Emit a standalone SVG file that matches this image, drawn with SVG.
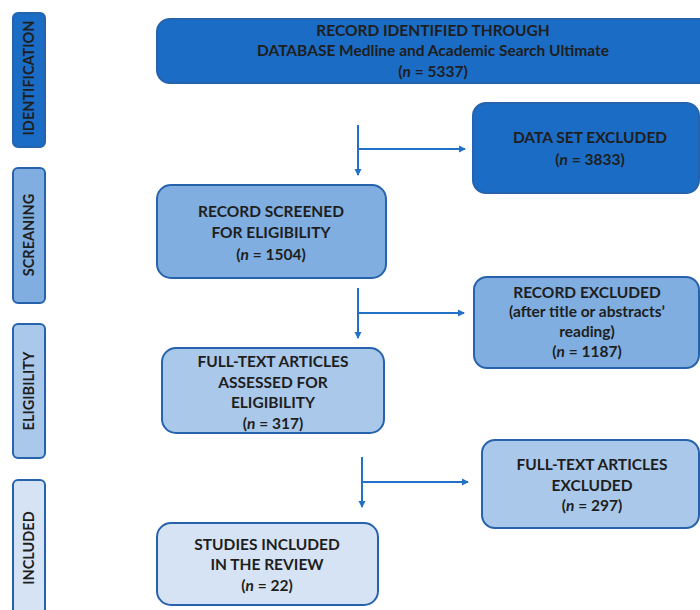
<svg xmlns="http://www.w3.org/2000/svg" width="700" height="610" viewBox="0 0 700 610">
<defs>
<style>
.box{stroke:#2663ac;stroke-width:2}
.d{fill:#1b6cc4}
.m{fill:#80aee0}
.l{fill:#aac8ea}
.x{fill:#d6e3f4}
text{font-family:Lato,"Liberation Sans",sans-serif;font-weight:bold;font-size:15.5px;fill:#1e1e1e;text-anchor:middle}
text.side{font-size:14.5px}
.conn{stroke:#2370c8;stroke-width:2;fill:none}
</style>
<marker id="ah" markerWidth="8" markerHeight="8" refX="6" refY="4" orient="auto" markerUnits="userSpaceOnUse">
<path d="M0,0.5 L7,4 L0,7.5 Z" fill="#2370c8"/>
</marker>
</defs>
<rect width="700" height="610" fill="#ffffff"/>

<g id="stage-identification">
<rect class="box d" x="13" y="13" width="32" height="134" rx="5"/>
<text class="side" transform="translate(34 78) rotate(-90)">IDENTIFICATION</text>
</g>
<g id="stage-screening">
<rect class="box m" x="13" y="168" width="32" height="135" rx="5"/>
<text class="side" transform="translate(34 235) rotate(-90)">SCREANING</text>
</g>
<g id="stage-eligibility">
<rect class="box l" x="13" y="324" width="32" height="134" rx="5"/>
<text class="side" transform="translate(34 391) rotate(-90)">ELIGIBILITY</text>
</g>
<g id="stage-included">
<rect class="box x" x="13" y="480" width="32" height="145" rx="5"/>
<text class="side" transform="translate(34 548) rotate(-90)">INCLUDED</text>
</g>

<g id="identified">
<rect class="box d" x="157" y="19" width="560" height="64" rx="13"/>
<text x="433" y="36">RECORD IDENTIFIED THROUGH</text>
<text x="433" y="56">DATABASE Medline and Academic Search Ultimate</text>
<text x="433" y="77">(<tspan font-style="italic">n</tspan> = 5337)</text>
</g>
<g id="dataset-excluded">
<rect class="box d" x="473" y="103" width="226" height="90" rx="13"/>
<text x="590" y="143">DATA SET EXCLUDED</text>
<text x="590" y="165">(<tspan font-style="italic">n</tspan> = 3833)</text>
</g>
<g id="screened">
<rect class="box m" x="157" y="185" width="229" height="93" rx="14"/>
<text x="271" y="217">RECORD SCREENED</text>
<text x="271" y="238">FOR ELIGIBILITY</text>
<text x="271" y="260">(<tspan font-style="italic">n</tspan> = 1504)</text>
</g>
<g id="record-excluded">
<rect class="box m" x="474" y="277" width="225" height="91" rx="13"/>
<text x="587" y="298">RECORD EXCLUDED</text>
<text x="587" y="317">(after title or abstracts’</text>
<text x="587" y="337">reading)</text>
<text x="587" y="357">(<tspan font-style="italic">n</tspan> = 1187)</text>
</g>
<g id="fulltext-assessed">
<rect class="box l" x="162" y="348" width="222" height="85" rx="14"/>
<text x="273" y="367">FULL-TEXT ARTICLES</text>
<text x="273" y="388">ASSESSED FOR</text>
<text x="273" y="408">ELIGIBILITY</text>
<text x="273" y="429">(<tspan font-style="italic">n</tspan> = 317)</text>
</g>
<g id="fulltext-excluded">
<rect class="box l" x="482" y="440" width="217" height="88" rx="13"/>
<text x="592" y="470">FULL-TEXT ARTICLES</text>
<text x="592" y="491">EXCLUDED</text>
<text x="592" y="511">(<tspan font-style="italic">n</tspan> = 297)</text>
</g>
<g id="studies-included">
<rect class="box x" x="157" y="523" width="221" height="82" rx="14"/>
<text x="267" y="550">STUDIES INCLUDED</text>
<text x="267" y="570">IN THE REVIEW</text>
<text x="267" y="591">(<tspan font-style="italic">n</tspan> = 22)</text>
</g>

<g id="connectors">
<line class="conn" x1="358" y1="125" x2="358" y2="175" marker-end="url(#ah)"/>
<line class="conn" x1="358" y1="149" x2="465" y2="149" marker-end="url(#ah)"/>
<line class="conn" x1="358" y1="288" x2="358" y2="338" marker-end="url(#ah)"/>
<line class="conn" x1="358" y1="313" x2="464" y2="313" marker-end="url(#ah)"/>
<line class="conn" x1="362" y1="457" x2="362" y2="507" marker-end="url(#ah)"/>
<line class="conn" x1="362" y1="482" x2="468" y2="482" marker-end="url(#ah)"/>
</g>
</svg>
